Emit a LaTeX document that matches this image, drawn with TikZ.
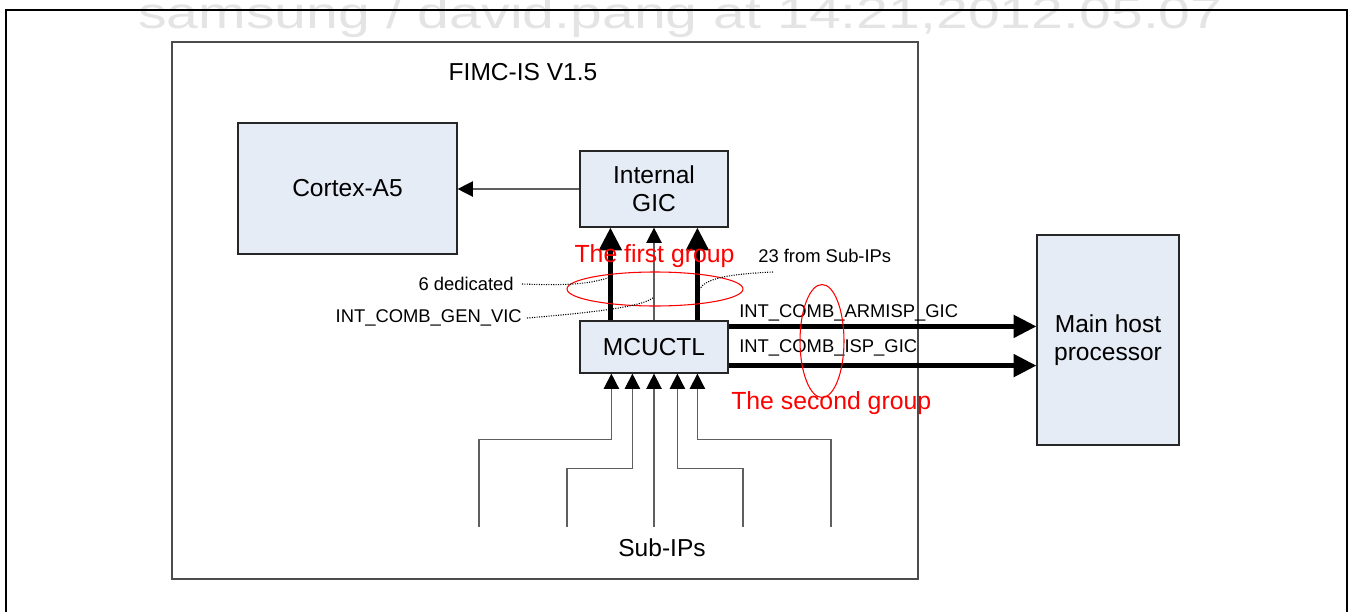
\documentclass[tikz,border=0pt]{standalone}
\usepackage{fontspec}
\setmainfont{Liberation Sans}
\usetikzlibrary{arrows.meta,shapes.geometric,calc}
\definecolor{boxfill}{RGB}{230,236,246}
\definecolor{wmgray}{RGB}{228,228,228}
\definecolor{linegray}{RGB}{95,95,95}
\tikzset{
  box/.style={draw=black!85, line width=0.9pt, fill=boxfill, inner sep=0pt, align=center,
              font=\fontsize{18.4}{21}\selectfont},
  thinarrow/.style={draw=linegray, line width=1.1pt, -{Triangle[length=11.5pt,width=11.5pt,color=black]}},
  thickarrow/.style={draw=black, line width=3.4pt, -{Triangle[length=17pt,width=16.5pt]}},
  thinline/.style={draw=linegray, line width=1.1pt},
  small/.style={font=\fontsize{13.8}{16}\selectfont, inner sep=0pt},
  redlabel/.style={text=red, font=\fontsize{18.6}{21}\selectfont, inner sep=0pt},
  redring/.style={draw=red, line width=0.8pt, ellipse, inner sep=0pt},
  dotline/.style={draw=black, line width=0.8pt, dash pattern=on 0.8pt off 1pt},
}
\begin{document}
\begin{tikzpicture}[x=0.75pt,y=-0.75pt]
\useasboundingbox (0,0) rectangle (1353,611);
% watermark
\node[anchor=base west, inner sep=0pt, text=wmgray, font=\fontsize{33}{33}\selectfont] (wm) at (138,28)
  {\scalebox{1.3}[1]{samsung / david.pang at 14:21,2012.05.07}};
% outer frame
\draw[line width=2pt] (6,640) -- (6,10) -- (1347,10) -- (1347,640);
% FIMC-IS block
\draw[draw=black!70, line width=1.2pt] (172,42) rectangle (918,579);
\node[font=\fontsize{18.4}{21}\selectfont, inner sep=0pt] (title) at (523,72) {FIMC-IS V1.5};
% boxes
\node[box, minimum width=219*0.75pt, minimum height=131*0.75pt] (cortex) at (347.5,188.5) {Cortex-A5};
\node[box, minimum width=148*0.75pt, minimum height=76*0.75pt] (gic) at (654,189) {Internal\\GIC};
\node[box, minimum width=148*0.75pt, minimum height=52*0.75pt] (mcu) at (654,347) {MCUCTL};
\node[box, minimum width=142*0.75pt, minimum height=210*0.75pt] (host) at (1108,340) {Main host\\processor};
% GIC -> Cortex
\draw[thinarrow] (gic.west) -- (gic.west -| cortex.east);
% MCUCTL -> GIC
\draw[thickarrow] ([xshift=31*0.75pt]mcu.north west) -- ([xshift=31*0.75pt]gic.south west);
\draw[thinarrow] (mcu.north) -- (gic.south);
\draw[thickarrow] ([xshift=118*0.75pt]mcu.north west) -- ([xshift=118*0.75pt]gic.south west);
% MCUCTL -> host
\coordinate (r1) at ([yshift=-6*0.75pt]mcu.north east);
\coordinate (r2) at ([yshift=8*0.75pt]mcu.south east);
\draw[thickarrow] (r1) -- (r1 -| host.west);
\draw[thickarrow] (r2) -- (r2 -| host.west);
\node[small, anchor=west] (lab1) at (739,313) {INT\_COMB\_ARMISP\_GIC};
\node[small, anchor=west] (lab2) at (739,348) {INT\_COMB\_ISP\_GIC};
% Sub-IPs
\coordinate (s1) at (479,527);
\coordinate (s2) at (567,527);
\coordinate (s3) at (654,527);
\coordinate (s4) at (743,527);
\coordinate (s5) at (831,527);
\coordinate (t1) at ([xshift=32*0.75pt]mcu.south west);
\coordinate (t2) at ([xshift=53*0.75pt]mcu.south west);
\coordinate (t3) at (mcu.south);
\coordinate (t4) at ([xshift=98*0.75pt]mcu.south west);
\coordinate (t5) at ([xshift=118*0.75pt]mcu.south west);
\draw[thinarrow] (s1) |- ([yshift=-66*0.75pt]t1) -- (t1);
\draw[thinarrow] (s2) |- ([yshift=-95*0.75pt]t2) -- (t2);
\draw[thinarrow] (s3) -- (t3);
\draw[thinarrow] (s4) |- ([yshift=-95*0.75pt]t4) -- (t4);
\draw[thinarrow] (s5) |- ([yshift=-66*0.75pt]t5) -- (t5);
\node[font=\fontsize{18.4}{21}\selectfont, inner sep=0pt] (subips) at (662,548) {Sub-IPs};
% annotations
\node[small, anchor=east] (ded) at (514,284) {6 dedicated};
\node[small, anchor=east] (genvic) at (522,318) {INT\_COMB\_GEN\_VIC};
\node[small, anchor=west] (from23) at (758,256) {23 from Sub-IPs};
\node[redlabel] (first) at (654.5,256) {The first group};
\node[redlabel, anchor=west] (second) at (731,403) {The second group};
\node[redring, minimum width=176*0.75pt, minimum height=34*0.75pt] (ring1) at (655,289) {};
\node[redring, minimum width=44*0.75pt, minimum height=113*0.75pt] (ring2) at (822,341) {};
% dotted leaders
\coordinate (e1) at (611,277);
\coordinate (e2) at (654,297);
\coordinate (e3) at (699,290);
\draw[dotline] ([xshift=8*0.75pt]ded.east) .. controls (575,286) and (592,283) .. (e1);
\draw[dotline] ([xshift=5*0.75pt]genvic.east) .. controls (600,312) and (645,306) .. (e2);
\draw[dotline] (773,272) .. controls (730,274) and (705,278) .. (e3);
\end{tikzpicture}
\end{document}
